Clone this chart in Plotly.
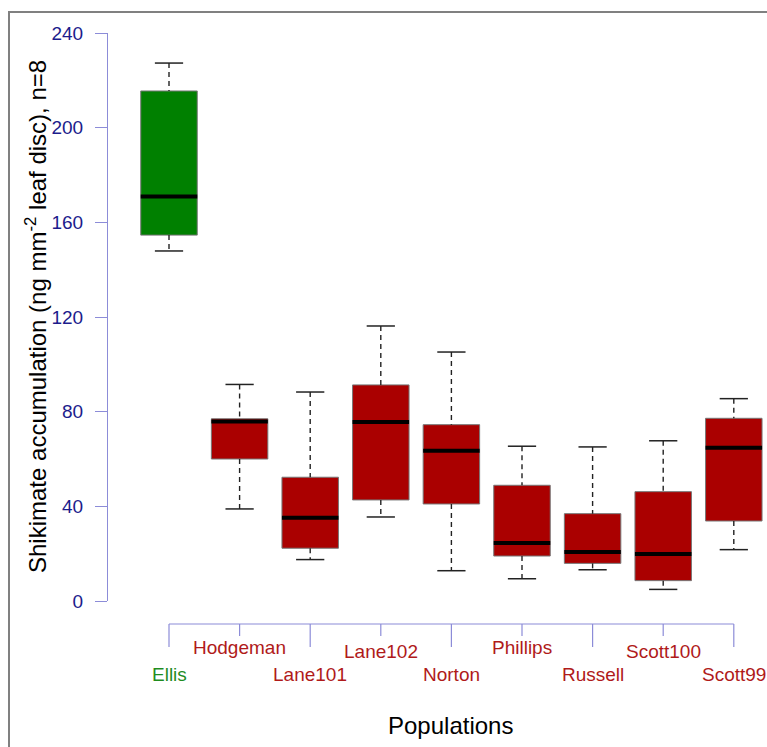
import plotly.graph_objects as go

# ---------------- data ----------------
populations = ["Ellis", "Hodgeman", "Lane101", "Lane102", "Norton",
               "Phillips", "Russell", "Scott100", "Scott99"]
lower_whisker = [147.9, 38.9, 17.5, 35.5, 12.8, 9.4, 13.2, 4.9, 21.7]
q1_values     = [154.6, 60.0, 22.3, 42.7, 41.0, 19.0, 15.9, 8.6, 33.8]
medians       = [170.9, 75.8, 35.2, 75.6, 63.5, 24.5, 20.7, 19.9, 64.8]
q3_values     = [215.5, 77.0, 52.3, 91.3, 74.5, 48.9, 36.9, 46.2, 77.2]
upper_whisker = [227.3, 91.5, 88.3, 116.2, 105.2, 65.4, 65.1, 67.7, 85.5]
y_ticks = [0, 40, 80, 120, 160, 200, 240]
resistant = ["Ellis"]

# ---------------- style ----------------
W, H = 767, 747
GREEN = "#008000"
RED = "#AA0000"
LABEL_GREEN = "#1f8c1f"
LABEL_RED = "#b01a1a"
AXIS_COL = "#8c8cd8"
TICK_TXT = "#1c1c8c"
FONT = "Liberation Sans, Arial, sans-serif"

def py(pix):  # pixel row -> paper y
    return (H - pix) / H

def px(pix):
    return pix / W

fig = go.Figure()

x_idx = list(range(len(populations)))
for i, name in enumerate(populations):
    col = GREEN if name in resistant else RED
    fig.add_trace(go.Box(
        x=[i], q1=[q1_values[i]], median=[medians[i]], q3=[q3_values[i]],
        lowerfence=[q1_values[i]], upperfence=[q3_values[i]],
        width=0.8, fillcolor=col, line=dict(color="#777777", width=1),
        whiskerwidth=0, showlegend=False, hoverinfo="skip",
    ))

# whiskers (dashed)
wx, wy = [], []
for i in x_idx:
    wx += [i, i, None, i, i, None]
    wy += [upper_whisker[i], q3_values[i], None, q1_values[i], lower_whisker[i], None]
fig.add_trace(go.Scatter(x=wx, y=wy, mode="lines",
                         line=dict(color="#222222", width=1.4, dash="5px,4px"),
                         showlegend=False, hoverinfo="skip"))
# caps
cx, cy = [], []
for i in x_idx:
    for v in (upper_whisker[i], lower_whisker[i]):
        cx += [i - 0.2, i + 0.2, None]
        cy += [v, v, None]
fig.add_trace(go.Scatter(x=cx, y=cy, mode="lines",
                         line=dict(color="#222222", width=1.5),
                         showlegend=False, hoverinfo="skip"))
# medians
mx, my = [], []
for i in x_idx:
    mx += [i - 0.4, i + 0.4, None]
    my += [medians[i], medians[i], None]
fig.add_trace(go.Scatter(x=mx, y=my, mode="lines",
                         line=dict(color="black", width=4),
                         showlegend=False, hoverinfo="skip"))

shapes = []
annotations = []
# custom x axis
x_line_y = py(624)
shapes.append(dict(type="line", xref="x", yref="paper", x0=0, x1=len(populations) - 1,
                   y0=x_line_y, y1=x_line_y, line=dict(color=AXIS_COL, width=1.2)))
for i, name in enumerate(populations):
    tall = (i % 2 == 0)
    shapes.append(dict(type="line", xref="x", yref="paper", x0=i, x1=i,
                       y0=x_line_y, y1=py(647 if tall else 636),
                       line=dict(color=AXIS_COL, width=1.2)))
    if tall:
        ly = py(674)
    else:
        ly = py(647 if i in (1, 5) else 651)
    annotations.append(dict(x=i, xref="x", y=ly, yref="paper", text=name,
                            showarrow=False, xanchor="center", yanchor="middle",
                            font=dict(family=FONT, size=19,
                                      color=LABEL_GREEN if name in resistant else LABEL_RED)))

# titles
annotations.append(dict(x=px(36), y=py(317), xref="paper", yref="paper",
                        text="Shikimate accumulation (ng mm<sup>-2</sup> leaf disc), n=8",
                        textangle=-90, showarrow=False, xanchor="center", yanchor="middle",
                        font=dict(family=FONT, size=24, color="black")))
annotations.append(dict(x=px(450), y=py(725), xref="paper", yref="paper",
                        text="Populations", showarrow=False,
                        xanchor="center", yanchor="middle",
                        font=dict(family=FONT, size=24, color="black")))

# gray frame (top & left)
shapes.append(dict(type="line", xref="paper", yref="paper", x0=px(8), x1=1.0,
                   y0=py(12), y1=py(12), line=dict(color="#808080", width=2)))
shapes.append(dict(type="line", xref="paper", yref="paper", x0=px(9), x1=px(9),
                   y0=0, y1=py(12), line=dict(color="#808080", width=2)))

x0_pix = 108
cat0_pix = 169
spacing = 70.6
fig.update_layout(
    width=W, height=H,
    margin=dict(l=0, r=0, t=0, b=0),
    paper_bgcolor="white", plot_bgcolor="white",
    xaxis=dict(domain=[px(x0_pix), 1.0],
               range=[(x0_pix - cat0_pix) / spacing, (W - cat0_pix) / spacing],
               visible=False, showgrid=False, zeroline=False, automargin=False),
    yaxis=dict(domain=[py(601), py(33)], range=[0, 240],
               tickvals=y_ticks, ticktext=[str(v) for v in y_ticks],
               showline=True, linecolor=AXIS_COL, linewidth=1.2,
               ticks="outside", ticklen=12, tickcolor=AXIS_COL, tickwidth=1.2,
               ticklabelstandoff=8,
               tickfont=dict(family=FONT, size=19, color=TICK_TXT),
               showgrid=False, zeroline=False, automargin=False),
    shapes=shapes, annotations=annotations,
    font=dict(family=FONT),
)

fig.write_html("out.html")
